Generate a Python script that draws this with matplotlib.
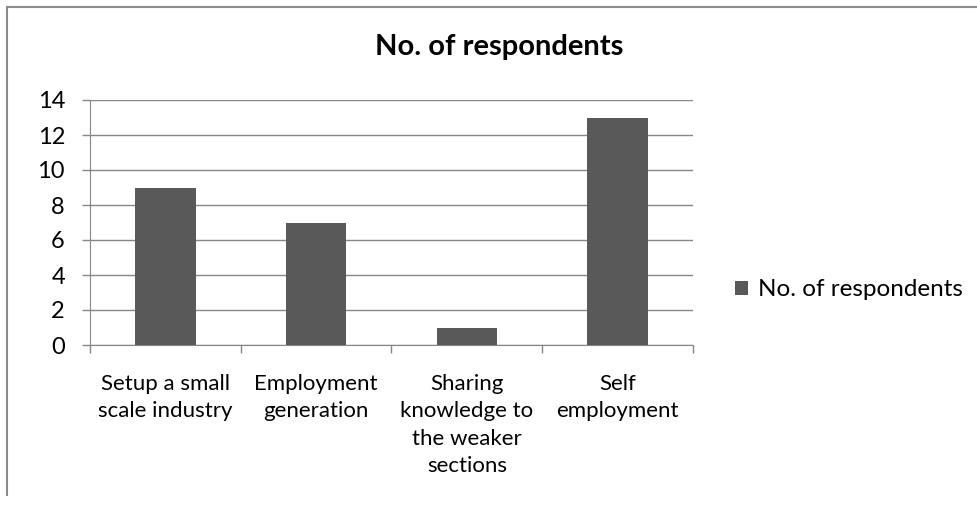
import matplotlib
matplotlib.use("Agg")
import matplotlib.pyplot as plt
from matplotlib.lines import Line2D

categories = ["Setup a small\nscale industry", "Employment\ngeneration",
              "Sharing\nknowledge to\nthe weaker\nsections", "Self\nemployment"]
values = [9, 7, 1, 13]
series_name = "No. of respondents"
yticks = [0, 2, 4, 6, 8, 10, 12, 14]

plt.rcParams['font.family'] = ['Lato', 'DejaVu Sans']

W, H = 978, 509
fig = plt.figure(figsize=(W/100, H/100), dpi=100)
fig.patch.set_facecolor('white')

# outer chart frame (partially visible)
fig.add_artist(Line2D([7/W, 7/W], [1-7/H, 1-495/H], color='#8c8c8c', lw=1.5, transform=fig.transFigure))
fig.add_artist(Line2D([7/W, 1.0], [1-7/H, 1-7/H], color='#8c8c8c', lw=1.5, transform=fig.transFigure))

ax = fig.add_axes([90/W, 1-345/H, (693-90)/W, (345-100)/H])
x = list(range(len(categories)))
bars = ax.bar(x, values, width=0.4, color='#595959', label=series_name, zorder=3)
ax.set_xlim(-0.5, len(categories)-0.5)
ax.set_ylim(0, 14)
ax.set_yticks(yticks)
ax.set_yticklabels([str(v) for v in yticks], fontsize=17)
ax.yaxis.grid(True, color='#868686', lw=1, zorder=0)
ax.set_xticks([i - 0.5 for i in range(len(categories)+1)], minor=False)
ax.set_xticklabels([])
ax.set_xticks(x, minor=True)
ax.set_xticklabels(categories, minor=True, fontsize=16, linespacing=1.45, va='top')
ax.tick_params(axis='x', which='minor', length=0, pad=21)
ax.tick_params(axis='x', which='major', length=5.5, color='#868686', width=1)
ax.tick_params(axis='y', length=6, color='#868686', width=1, pad=12)
for s in ['top', 'right']:
    ax.spines[s].set_visible(False)
ax.spines['left'].set_color('#868686')
ax.spines['bottom'].set_color('#868686')

fig.text(499/W, 1-47/H, "No. of respondents", ha='center', va='center', fontsize=21, fontweight='bold')

leg = fig.legend(handles=[bars], labels=[series_name], loc='center left',
                 bbox_to_anchor=(713/W, 1-290/H), frameon=False, fontsize=17.5,
                 handlelength=0.55, handleheight=0.55, handletextpad=0.4)

fig.savefig("out.png", dpi=100, facecolor='white')
